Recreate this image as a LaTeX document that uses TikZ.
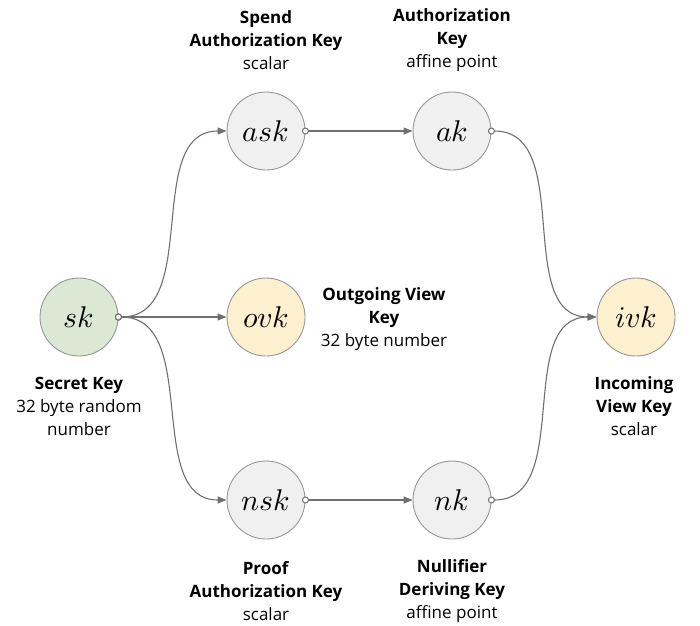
\documentclass[tikz,border=0pt]{standalone}
\usepackage{fontspec}
\usepackage{unicode-math}
\setmainfont{Open Sans}
\setmathfont{Latin Modern Math}
\usetikzlibrary{arrows.meta}
\definecolor{gfill}{RGB}{240,240,240}
\definecolor{grfill}{RGB}{218,232,212}
\definecolor{yfill}{RGB}{253,240,207}
\definecolor{cstroke}{RGB}{150,150,150}
\definecolor{edgec}{RGB}{112,112,112}
\begin{document}
\begin{tikzpicture}[x=1pt,y=-1pt,
  keynode/.style={circle,draw=cstroke,line width=0.9pt,minimum size=78pt,inner sep=0pt,font=\fontsize{30}{32}\selectfont},
  lbl/.style={align=center,font=\fontsize{17}{23}\selectfont,inner sep=0pt},
  conn/.style={draw=edgec,line width=1.1pt,{Circle[length=7pt,width=7pt,fill=white,line width=1pt]}-{Triangle[length=9pt,width=7pt]},shorten <=-3.5pt}]
\useasboundingbox (0,0) rectangle (700,625);
\node[keynode,fill=grfill] (sk) at (79,317) {$sk$};
\node[keynode,fill=gfill] (ask) at (266,131) {$ask$};
\node[keynode,fill=gfill] (ak) at (452,131) {$ak$};
\node[keynode,fill=yfill] (ovk) at (266,317) {$ovk$};
\node[keynode,fill=gfill] (nsk) at (266,500) {$nsk$};
\node[keynode,fill=gfill] (nk) at (452,500) {$nk$};
\node[keynode,fill=yfill] (ivk) at (636,317) {$ivk$};

\node[lbl] (lask) at (266,40) {\textbf{Spend}\\\textbf{Authorization Key}\\scalar};
\node[lbl] (lak) at (452,40) {\textbf{Authorization}\\\textbf{Key}\\affine point};
\node[lbl] (lovk) at (384,319) {\textbf{Outgoing View}\\\textbf{Key}\\32 byte number};
\node[lbl] (lsk) at (79,406) {\textbf{Secret Key}\\32 byte random\\number};
\node[lbl] (livk) at (634,406) {\textbf{Incoming}\\\textbf{View Key}\\scalar};
\node[lbl] (lnsk) at (266,591) {\textbf{Proof}\\\textbf{Authorization Key}\\scalar};
\node[lbl] (lnk) at (452,591) {\textbf{Nullifier}\\\textbf{Deriving Key}\\affine point};

\draw[conn] (sk.east) to[out=0,in=180] (ask.west);
\draw[conn] (sk.east) -- (ovk.west);
\draw[conn] (sk.east) to[out=0,in=180] (nsk.west);
\draw[conn] (ask.east) -- (ak.west);
\draw[conn] (nsk.east) -- (nk.west);
\draw[conn] (ak.east) to[out=0,in=180] (ivk.west);
\draw[conn] (nk.east) to[out=0,in=180] (ivk.west);
\end{tikzpicture}
\end{document}
